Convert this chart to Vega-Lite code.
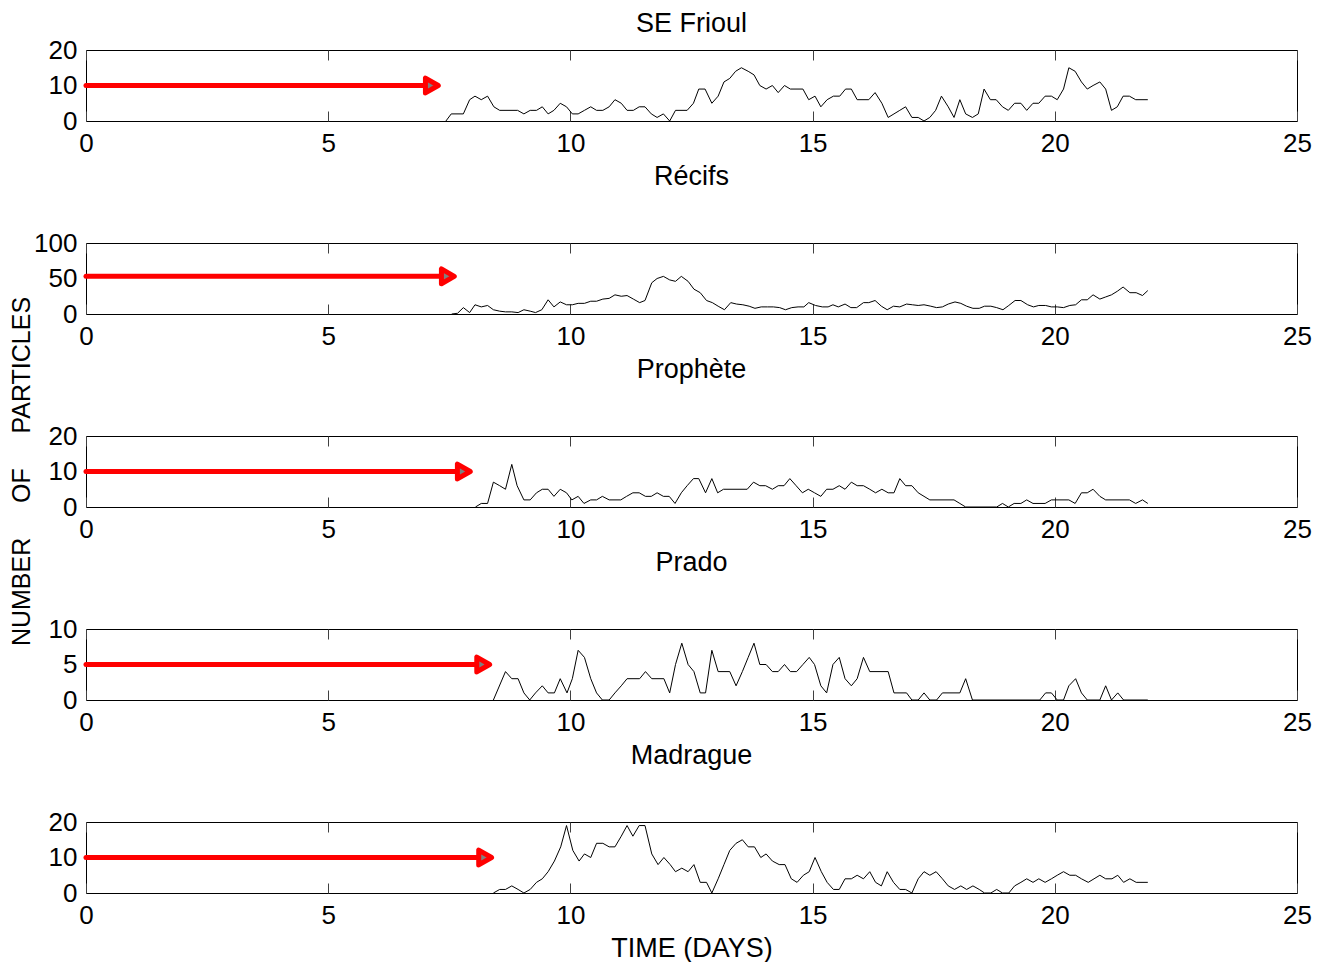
{
  "$schema": "https://vega.github.io/schema/vega-lite/v6.json",
  "padding": {"left": 8, "top": 9, "right": 0, "bottom": 0},
  "bounds": "flush",
  "spacing": 122,
  "background": "white",
  "config": {
    "font": "Liberation Sans",
    "view": {"stroke": "black", "strokeWidth": 1},
    "axis": {"labelFont": "Liberation Sans", "labelFontSize": 26, "labelColor": "black", "labelOverlap": false, "titleFont": "Liberation Sans", "titleFontSize": 27, "titleFontWeight": "normal", "titleColor": "black", "domain": false, "grid": false},
    "axisY": {"values": [0,10,20], "ticks": false, "labelPadding": 9, "labelBaseline": "middle", "labelOverlap": false, "title": null},
    "title": {"font": "Liberation Sans", "fontSize": 27, "fontWeight": "normal", "color": "black", "anchor": "middle"}
  },
  "datasets": {
    "p1": [
      {"t":7.43,"v":0},{"t":7.54,"v":2},{"t":7.79,"v":2},{"t":7.92,"v":6},{"t":8.03,"v":7},{"t":8.16,"v":6},{"t":8.29,"v":7},{"t":8.42,"v":4},{"t":8.54,"v":3},{"t":8.91,"v":3},{"t":9.04,"v":2},{"t":9.17,"v":3},{"t":9.30,"v":3},{"t":9.42,"v":4},{"t":9.54,"v":2},{"t":9.66,"v":3},{"t":9.79,"v":5},{"t":9.92,"v":4},{"t":10.04,"v":2},{"t":10.16,"v":2},{"t":10.29,"v":3},{"t":10.42,"v":4},{"t":10.54,"v":3},{"t":10.67,"v":3},{"t":10.80,"v":4},{"t":10.92,"v":6},{"t":11.05,"v":5},{"t":11.17,"v":3},{"t":11.30,"v":3},{"t":11.42,"v":4},{"t":11.54,"v":4},{"t":11.67,"v":2},{"t":11.79,"v":1},{"t":11.92,"v":2},{"t":12.05,"v":0},{"t":12.17,"v":3},{"t":12.41,"v":3},{"t":12.54,"v":5},{"t":12.65,"v":9},{"t":12.78,"v":9},{"t":12.92,"v":5},{"t":13.05,"v":7},{"t":13.17,"v":11},{"t":13.29,"v":12},{"t":13.41,"v":14},{"t":13.53,"v":15},{"t":13.67,"v":14},{"t":13.79,"v":13},{"t":13.91,"v":10},{"t":14.04,"v":9},{"t":14.17,"v":10},{"t":14.29,"v":8},{"t":14.42,"v":10},{"t":14.54,"v":9},{"t":14.80,"v":9},{"t":14.92,"v":6},{"t":15.05,"v":7},{"t":15.17,"v":4},{"t":15.30,"v":6},{"t":15.43,"v":7},{"t":15.56,"v":7},{"t":15.68,"v":9},{"t":15.80,"v":9},{"t":15.92,"v":6},{"t":16.16,"v":6},{"t":16.29,"v":8},{"t":16.43,"v":5},{"t":16.56,"v":1},{"t":16.68,"v":2},{"t":16.80,"v":3},{"t":16.92,"v":4},{"t":17.05,"v":1},{"t":17.18,"v":1},{"t":17.30,"v":0},{"t":17.42,"v":1},{"t":17.54,"v":3},{"t":17.66,"v":7},{"t":17.80,"v":4},{"t":17.92,"v":1},{"t":18.04,"v":6},{"t":18.16,"v":2},{"t":18.30,"v":1},{"t":18.42,"v":2},{"t":18.54,"v":9},{"t":18.67,"v":6},{"t":18.79,"v":6},{"t":18.92,"v":4},{"t":19.04,"v":3},{"t":19.17,"v":5},{"t":19.30,"v":5},{"t":19.42,"v":3},{"t":19.55,"v":5},{"t":19.67,"v":5},{"t":19.80,"v":7},{"t":19.93,"v":7},{"t":20.05,"v":6},{"t":20.18,"v":9},{"t":20.29,"v":15},{"t":20.42,"v":14},{"t":20.55,"v":11},{"t":20.67,"v":9},{"t":20.79,"v":10},{"t":20.93,"v":11},{"t":21.05,"v":9},{"t":21.17,"v":3},{"t":21.29,"v":4},{"t":21.41,"v":7},{"t":21.54,"v":7},{"t":21.67,"v":6},{"t":21.92,"v":6}
    ],
    "p2": [
      {"t":7.55,"v":0},{"t":7.67,"v":1},{"t":7.79,"v":9},{"t":7.92,"v":2},{"t":8.03,"v":13},{"t":8.16,"v":10},{"t":8.29,"v":12},{"t":8.41,"v":6},{"t":8.54,"v":4},{"t":8.66,"v":3},{"t":8.79,"v":3},{"t":8.92,"v":2},{"t":9.04,"v":6},{"t":9.17,"v":4},{"t":9.28,"v":2},{"t":9.41,"v":6},{"t":9.54,"v":20},{"t":9.66,"v":10},{"t":9.79,"v":17},{"t":9.92,"v":13},{"t":10.04,"v":13},{"t":10.16,"v":15},{"t":10.29,"v":15},{"t":10.42,"v":18},{"t":10.54,"v":18},{"t":10.67,"v":21},{"t":10.80,"v":22},{"t":10.92,"v":27},{"t":11.05,"v":25},{"t":11.17,"v":26},{"t":11.30,"v":21},{"t":11.43,"v":16},{"t":11.54,"v":19},{"t":11.68,"v":44},{"t":11.79,"v":50},{"t":11.92,"v":53},{"t":12.05,"v":48},{"t":12.17,"v":46},{"t":12.29,"v":53},{"t":12.43,"v":46},{"t":12.55,"v":35},{"t":12.68,"v":30},{"t":12.81,"v":19},{"t":12.93,"v":16},{"t":13.05,"v":11},{"t":13.18,"v":6},{"t":13.31,"v":16},{"t":13.43,"v":14},{"t":13.56,"v":13},{"t":13.69,"v":11},{"t":13.81,"v":8},{"t":13.94,"v":10},{"t":14.07,"v":10},{"t":14.19,"v":10},{"t":14.32,"v":9},{"t":14.44,"v":6},{"t":14.57,"v":9},{"t":14.70,"v":10},{"t":14.82,"v":10},{"t":14.92,"v":16},{"t":15.06,"v":12},{"t":15.20,"v":10},{"t":15.32,"v":10},{"t":15.42,"v":13},{"t":15.53,"v":10},{"t":15.67,"v":14},{"t":15.79,"v":9},{"t":15.91,"v":9},{"t":16.05,"v":16},{"t":16.16,"v":16},{"t":16.29,"v":19},{"t":16.42,"v":11},{"t":16.54,"v":6},{"t":16.67,"v":11},{"t":16.80,"v":10},{"t":16.94,"v":14},{"t":17.06,"v":13},{"t":17.18,"v":12},{"t":17.30,"v":13},{"t":17.44,"v":11},{"t":17.56,"v":9},{"t":17.68,"v":10},{"t":17.80,"v":14},{"t":17.94,"v":17},{"t":18.06,"v":15},{"t":18.18,"v":11},{"t":18.31,"v":8},{"t":18.44,"v":8},{"t":18.55,"v":11},{"t":18.68,"v":11},{"t":18.80,"v":9},{"t":18.93,"v":6},{"t":19.05,"v":12},{"t":19.18,"v":19},{"t":19.30,"v":19},{"t":19.44,"v":13},{"t":19.56,"v":10},{"t":19.67,"v":12},{"t":19.81,"v":12},{"t":19.93,"v":10},{"t":20.05,"v":10},{"t":20.18,"v":9},{"t":20.31,"v":12},{"t":20.43,"v":13},{"t":20.55,"v":20},{"t":20.67,"v":20},{"t":20.79,"v":27},{"t":20.93,"v":21},{"t":21.05,"v":24},{"t":21.17,"v":27},{"t":21.29,"v":32},{"t":21.41,"v":38},{"t":21.55,"v":30},{"t":21.68,"v":30},{"t":21.81,"v":26},{"t":21.92,"v":33}
    ],
    "p3": [
      {"t":8.04,"v":0},{"t":8.16,"v":1},{"t":8.29,"v":1},{"t":8.41,"v":7},{"t":8.54,"v":6},{"t":8.66,"v":5},{"t":8.79,"v":12},{"t":8.90,"v":6},{"t":9.04,"v":2},{"t":9.17,"v":2},{"t":9.30,"v":4},{"t":9.42,"v":5},{"t":9.54,"v":5},{"t":9.66,"v":3},{"t":9.79,"v":5},{"t":9.92,"v":4},{"t":10.03,"v":2},{"t":10.16,"v":3},{"t":10.28,"v":1},{"t":10.42,"v":2},{"t":10.54,"v":2},{"t":10.66,"v":3},{"t":10.80,"v":2},{"t":11.04,"v":2},{"t":11.16,"v":3},{"t":11.29,"v":4},{"t":11.42,"v":4},{"t":11.55,"v":3},{"t":11.67,"v":3},{"t":11.79,"v":4},{"t":11.92,"v":3},{"t":12.04,"v":3},{"t":12.16,"v":1},{"t":12.29,"v":4},{"t":12.41,"v":6},{"t":12.54,"v":8},{"t":12.65,"v":8},{"t":12.79,"v":4},{"t":12.92,"v":8},{"t":13.04,"v":4},{"t":13.16,"v":5},{"t":13.65,"v":5},{"t":13.78,"v":7},{"t":13.91,"v":6},{"t":14.03,"v":6},{"t":14.17,"v":5},{"t":14.29,"v":6},{"t":14.41,"v":6},{"t":14.53,"v":8},{"t":14.66,"v":6},{"t":14.79,"v":4},{"t":14.91,"v":5},{"t":15.04,"v":4},{"t":15.17,"v":3},{"t":15.29,"v":5},{"t":15.42,"v":5},{"t":15.55,"v":6},{"t":15.67,"v":5},{"t":15.80,"v":7},{"t":15.92,"v":6},{"t":16.05,"v":6},{"t":16.18,"v":5},{"t":16.30,"v":4},{"t":16.43,"v":5},{"t":16.56,"v":4},{"t":16.68,"v":4},{"t":16.80,"v":8},{"t":16.92,"v":6},{"t":17.05,"v":6},{"t":17.18,"v":4},{"t":17.30,"v":3},{"t":17.42,"v":2},{"t":17.92,"v":2},{"t":18.04,"v":1},{"t":18.16,"v":0},{"t":18.80,"v":0},{"t":18.92,"v":1},{"t":19.04,"v":0},{"t":19.16,"v":1},{"t":19.30,"v":1},{"t":19.42,"v":2},{"t":19.55,"v":1},{"t":19.80,"v":1},{"t":19.93,"v":2},{"t":20.29,"v":2},{"t":20.42,"v":1},{"t":20.55,"v":4},{"t":20.67,"v":4},{"t":20.79,"v":5},{"t":20.93,"v":3},{"t":21.05,"v":2},{"t":21.54,"v":2},{"t":21.67,"v":1},{"t":21.81,"v":2},{"t":21.92,"v":1}
    ],
    "p4": [
      {"t":8.41,"v":0},{"t":8.66,"v":4},{"t":8.79,"v":3},{"t":8.92,"v":3},{"t":9.04,"v":1},{"t":9.16,"v":0},{"t":9.28,"v":1},{"t":9.42,"v":2},{"t":9.54,"v":1},{"t":9.67,"v":1},{"t":9.79,"v":3},{"t":9.93,"v":1},{"t":10.04,"v":3},{"t":10.16,"v":7},{"t":10.29,"v":6},{"t":10.42,"v":3},{"t":10.54,"v":1},{"t":10.66,"v":0},{"t":10.80,"v":0},{"t":10.92,"v":1},{"t":11.05,"v":2},{"t":11.17,"v":3},{"t":11.43,"v":3},{"t":11.55,"v":4},{"t":11.68,"v":3},{"t":11.93,"v":3},{"t":12.05,"v":1},{"t":12.17,"v":5},{"t":12.30,"v":8},{"t":12.43,"v":5},{"t":12.55,"v":4},{"t":12.68,"v":1},{"t":12.79,"v":1},{"t":12.92,"v":7},{"t":13.05,"v":4},{"t":13.29,"v":4},{"t":13.42,"v":2},{"t":13.55,"v":4},{"t":13.67,"v":6},{"t":13.79,"v":8},{"t":13.91,"v":5},{"t":14.04,"v":5},{"t":14.17,"v":4},{"t":14.29,"v":4},{"t":14.42,"v":5},{"t":14.54,"v":4},{"t":14.67,"v":4},{"t":14.80,"v":5},{"t":14.93,"v":6},{"t":15.04,"v":5},{"t":15.17,"v":2},{"t":15.29,"v":1},{"t":15.42,"v":5},{"t":15.55,"v":6},{"t":15.67,"v":3},{"t":15.80,"v":2},{"t":15.92,"v":3},{"t":16.05,"v":6},{"t":16.18,"v":4},{"t":16.56,"v":4},{"t":16.68,"v":1},{"t":16.94,"v":1},{"t":17.05,"v":0},{"t":17.18,"v":0},{"t":17.30,"v":1},{"t":17.42,"v":0},{"t":17.56,"v":0},{"t":17.68,"v":1},{"t":18.04,"v":1},{"t":18.16,"v":3},{"t":18.30,"v":0},{"t":19.69,"v":0},{"t":19.81,"v":1},{"t":19.93,"v":1},{"t":20.05,"v":0},{"t":20.18,"v":0},{"t":20.29,"v":2},{"t":20.43,"v":3},{"t":20.55,"v":1},{"t":20.67,"v":0},{"t":20.93,"v":0},{"t":21.05,"v":2},{"t":21.17,"v":0},{"t":21.30,"v":1},{"t":21.42,"v":0},{"t":21.92,"v":0}
    ],
    "p5": [
      {"t":8.41,"v":0},{"t":8.54,"v":1},{"t":8.66,"v":1},{"t":8.79,"v":2},{"t":8.92,"v":1},{"t":9.04,"v":0},{"t":9.17,"v":1},{"t":9.30,"v":3},{"t":9.42,"v":4},{"t":9.54,"v":6},{"t":9.67,"v":9},{"t":9.80,"v":13},{"t":9.92,"v":19},{"t":10.05,"v":12},{"t":10.18,"v":9},{"t":10.29,"v":11},{"t":10.42,"v":10},{"t":10.54,"v":14},{"t":10.67,"v":14},{"t":10.80,"v":13},{"t":10.92,"v":13},{"t":11.05,"v":16},{"t":11.17,"v":19},{"t":11.29,"v":16},{"t":11.42,"v":19},{"t":11.54,"v":19},{"t":11.68,"v":11},{"t":11.81,"v":8},{"t":11.93,"v":10},{"t":12.06,"v":8},{"t":12.17,"v":6},{"t":12.30,"v":7},{"t":12.43,"v":6},{"t":12.55,"v":8},{"t":12.68,"v":3},{"t":12.81,"v":3},{"t":12.92,"v":0},{"t":13.05,"v":4},{"t":13.17,"v":8},{"t":13.29,"v":12},{"t":13.42,"v":14},{"t":13.55,"v":15},{"t":13.67,"v":13},{"t":13.80,"v":13},{"t":13.93,"v":10},{"t":14.04,"v":11},{"t":14.17,"v":9},{"t":14.31,"v":8},{"t":14.43,"v":8},{"t":14.56,"v":4},{"t":14.68,"v":3},{"t":14.81,"v":5},{"t":14.93,"v":6},{"t":15.05,"v":10},{"t":15.18,"v":6},{"t":15.30,"v":3},{"t":15.43,"v":1},{"t":15.55,"v":1},{"t":15.67,"v":4},{"t":15.80,"v":4},{"t":15.92,"v":5},{"t":16.05,"v":4},{"t":16.18,"v":6},{"t":16.30,"v":3},{"t":16.42,"v":2},{"t":16.54,"v":6},{"t":16.67,"v":3},{"t":16.80,"v":1},{"t":16.92,"v":1},{"t":17.05,"v":0},{"t":17.18,"v":4},{"t":17.30,"v":6},{"t":17.42,"v":5},{"t":17.55,"v":6},{"t":17.68,"v":4},{"t":17.80,"v":2},{"t":17.93,"v":1},{"t":18.06,"v":2},{"t":18.18,"v":1},{"t":18.31,"v":2},{"t":18.44,"v":1},{"t":18.55,"v":0},{"t":18.68,"v":0},{"t":18.80,"v":1},{"t":18.92,"v":0},{"t":19.05,"v":0},{"t":19.17,"v":2},{"t":19.30,"v":3},{"t":19.42,"v":4},{"t":19.55,"v":3},{"t":19.67,"v":4},{"t":19.80,"v":3},{"t":19.93,"v":4},{"t":20.05,"v":5},{"t":20.18,"v":6},{"t":20.31,"v":5},{"t":20.43,"v":5},{"t":20.55,"v":4},{"t":20.69,"v":3},{"t":20.81,"v":4},{"t":20.93,"v":5},{"t":21.05,"v":4},{"t":21.18,"v":4},{"t":21.30,"v":5},{"t":21.42,"v":3},{"t":21.55,"v":4},{"t":21.68,"v":3},{"t":21.92,"v":3}
    ],
    "a1": [{"x0":0,"x1":7.14,"y":10}],
    "a2": [{"x0":0,"x1":7.47,"y":53}],
    "a3": [{"x0":0,"x1":7.80,"y":10}],
    "a4": [{"x0":0,"x1":8.20,"y":5}],
    "a5": [{"x0":0,"x1":8.24,"y":10}]
  },
  "vconcat": [
    {
      "title": {"text": "SE Frioul", "offset": -1},
      "width": 1211, "height": 71,
      "resolve": {"axis": {"x": "independent"}},
      "layer": [
        {"data": {"name": "p1"}, "mark": {"type": "line", "color": "black", "strokeWidth": 1},
         "encoding": {
           "x": {"field": "t", "type": "quantitative", "scale": {"domain": [0, 25], "nice": false}, "axis": {"orient": "bottom", "values": [0,5,10,15,20,25], "tickSize": -10, "tickColor": "#404040", "labelPadding": 19, "labelFlush": false, "labelOverlap": false, "title": null}},
           "y": {"field": "v", "type": "quantitative", "scale": {"domain": [0, 20], "nice": false}, "axis": {"values": [0,10,20], "labelOverlap": false}}}},
        {"data": {"name": "a1"}, "mark": {"type": "rule", "color": "#ff0000", "strokeWidth": 5, "strokeCap": "round"},
         "encoding": {
           "x": {"field": "x0", "type": "quantitative", "axis": {"orient": "top", "values": [0,5,10,15,20,25], "tickSize": -10, "tickColor": "#404040", "labels": false, "title": null}},
           "x2": {"field": "x1"},
           "y": {"field": "y", "type": "quantitative", "axis": {"values": [0,10,20], "labelOverlap": false}}}},
        {"data": {"name": "a1"}, "mark": {"type": "point", "shape": "triangle-right", "filled": true, "fill": "#808080", "stroke": "#ff0000", "strokeWidth": 5, "strokeJoin": "round", "size": 220, "opacity": 1},
         "encoding": {
           "x": {"field": "x1", "type": "quantitative", "axis": null},
           "y": {"field": "y", "type": "quantitative", "axis": {"values": [0,10,20], "labelOverlap": false}}}}
      ]
    },
    {
      "title": {"text": "Récifs", "offset": 39},
      "width": 1211, "height": 71,
      "resolve": {"axis": {"x": "independent"}},
      "layer": [
        {"data": {"name": "p2"}, "mark": {"type": "line", "color": "black", "strokeWidth": 1},
         "encoding": {
           "x": {"field": "t", "type": "quantitative", "scale": {"domain": [0, 25], "nice": false}, "axis": {"orient": "bottom", "values": [0,5,10,15,20,25], "tickSize": -10, "tickColor": "#404040", "labelPadding": 19, "labelFlush": false, "labelOverlap": false, "title": null}},
           "y": {"field": "v", "type": "quantitative", "scale": {"domain": [0, 100], "nice": false}, "axis": {"values": [0,50,100], "labelOverlap": false}}}},
        {"data": {"name": "a2"}, "mark": {"type": "rule", "color": "#ff0000", "strokeWidth": 5, "strokeCap": "round"},
         "encoding": {
           "x": {"field": "x0", "type": "quantitative", "axis": {"orient": "top", "values": [0,5,10,15,20,25], "tickSize": -10, "tickColor": "#404040", "labels": false, "title": null}},
           "x2": {"field": "x1"},
           "y": {"field": "y", "type": "quantitative", "axis": {"values": [0,50,100], "labelOverlap": false}}}},
        {"data": {"name": "a2"}, "mark": {"type": "point", "shape": "triangle-right", "filled": true, "fill": "#808080", "stroke": "#ff0000", "strokeWidth": 5, "strokeJoin": "round", "size": 220, "opacity": 1},
         "encoding": {
           "x": {"field": "x1", "type": "quantitative", "axis": null},
           "y": {"field": "y", "type": "quantitative", "axis": {"values": [0,50,100], "labelOverlap": false}}}}
      ]
    },
    {
      "title": {"text": "Prophète", "offset": -88},
      "width": 1211, "height": 71,
      "resolve": {"axis": {"x": "independent"}},
      "layer": [
        {"data": {"name": "p3"}, "mark": {"type": "line", "color": "black", "strokeWidth": 1},
         "encoding": {
           "x": {"field": "t", "type": "quantitative", "scale": {"domain": [0, 25], "nice": false}, "axis": {"orient": "bottom", "values": [0,5,10,15,20,25], "tickSize": -10, "tickColor": "#404040", "labelPadding": 19, "labelFlush": false, "labelOverlap": false, "title": null}},
           "y": {"field": "v", "type": "quantitative", "scale": {"domain": [0, 20], "nice": false}, "axis": {"values": [0,10,20], "labelOverlap": false, "title": "NUMBER\u00a0\u00a0\u00a0\u00a0\u00a0OF\u00a0\u00a0\u00a0\u00a0\u00a0PARTICLES", "titleFontSize": 25, "titleX": -65, "titleY": 35, "titleAngle": 270, "titleAlign": "center", "titleBaseline": "middle"}}}},
        {"data": {"name": "a3"}, "mark": {"type": "rule", "color": "#ff0000", "strokeWidth": 5, "strokeCap": "round"},
         "encoding": {
           "x": {"field": "x0", "type": "quantitative", "axis": {"orient": "top", "values": [0,5,10,15,20,25], "tickSize": -10, "tickColor": "#404040", "labels": false, "title": null}},
           "x2": {"field": "x1"},
           "y": {"field": "y", "type": "quantitative", "axis": {"values": [0,10,20], "labelOverlap": false, "title": "NUMBER\u00a0\u00a0\u00a0\u00a0\u00a0OF\u00a0\u00a0\u00a0\u00a0\u00a0PARTICLES", "titleFontSize": 25, "titleX": -65, "titleY": 35, "titleAngle": 270, "titleAlign": "center", "titleBaseline": "middle"}}}},
        {"data": {"name": "a3"}, "mark": {"type": "point", "shape": "triangle-right", "filled": true, "fill": "#808080", "stroke": "#ff0000", "strokeWidth": 5, "strokeJoin": "round", "size": 220, "opacity": 1},
         "encoding": {
           "x": {"field": "x1", "type": "quantitative", "axis": null},
           "y": {"field": "y", "type": "quantitative", "axis": {"values": [0,10,20], "labelOverlap": false, "title": "NUMBER\u00a0\u00a0\u00a0\u00a0\u00a0OF\u00a0\u00a0\u00a0\u00a0\u00a0PARTICLES", "titleFontSize": 25, "titleX": -65, "titleY": 35, "titleAngle": 270, "titleAlign": "center", "titleBaseline": "middle"}}}}
      ]
    },
    {
      "title": {"text": "Prado", "offset": 39},
      "width": 1211, "height": 71,
      "resolve": {"axis": {"x": "independent"}},
      "layer": [
        {"data": {"name": "p4"}, "mark": {"type": "line", "color": "black", "strokeWidth": 1},
         "encoding": {
           "x": {"field": "t", "type": "quantitative", "scale": {"domain": [0, 25], "nice": false}, "axis": {"orient": "bottom", "values": [0,5,10,15,20,25], "tickSize": -10, "tickColor": "#404040", "labelPadding": 19, "labelFlush": false, "labelOverlap": false, "title": null}},
           "y": {"field": "v", "type": "quantitative", "scale": {"domain": [0, 10], "nice": false}, "axis": {"values": [0,5,10], "labelOverlap": false}}}},
        {"data": {"name": "a4"}, "mark": {"type": "rule", "color": "#ff0000", "strokeWidth": 5, "strokeCap": "round"},
         "encoding": {
           "x": {"field": "x0", "type": "quantitative", "axis": {"orient": "top", "values": [0,5,10,15,20,25], "tickSize": -10, "tickColor": "#404040", "labels": false, "title": null}},
           "x2": {"field": "x1"},
           "y": {"field": "y", "type": "quantitative", "axis": {"values": [0,5,10], "labelOverlap": false}}}},
        {"data": {"name": "a4"}, "mark": {"type": "point", "shape": "triangle-right", "filled": true, "fill": "#808080", "stroke": "#ff0000", "strokeWidth": 5, "strokeJoin": "round", "size": 220, "opacity": 1},
         "encoding": {
           "x": {"field": "x1", "type": "quantitative", "axis": null},
           "y": {"field": "y", "type": "quantitative", "axis": {"values": [0,5,10], "labelOverlap": false}}}}
      ]
    },
    {
      "title": {"text": "Madrague", "offset": 39},
      "width": 1211, "height": 71,
      "resolve": {"axis": {"x": "independent"}},
      "layer": [
        {"data": {"name": "p5"}, "mark": {"type": "line", "color": "black", "strokeWidth": 1},
         "encoding": {
           "x": {"field": "t", "type": "quantitative", "scale": {"domain": [0, 25], "nice": false}, "axis": {"orient": "bottom", "values": [0,5,10,15,20,25], "tickSize": -10, "tickColor": "#404040", "labelPadding": 19, "labelFlush": false, "labelOverlap": false, "title": "TIME (DAYS)", "titleY": 55, "titleBaseline": "middle"}},
           "y": {"field": "v", "type": "quantitative", "scale": {"domain": [0, 20], "nice": false}, "axis": {"values": [0,10,20], "labelOverlap": false}}}},
        {"data": {"name": "a5"}, "mark": {"type": "rule", "color": "#ff0000", "strokeWidth": 5, "strokeCap": "round"},
         "encoding": {
           "x": {"field": "x0", "type": "quantitative", "axis": {"orient": "top", "values": [0,5,10,15,20,25], "tickSize": -10, "tickColor": "#404040", "labels": false, "title": null}},
           "x2": {"field": "x1"},
           "y": {"field": "y", "type": "quantitative", "axis": {"values": [0,10,20], "labelOverlap": false}}}},
        {"data": {"name": "a5"}, "mark": {"type": "point", "shape": "triangle-right", "filled": true, "fill": "#808080", "stroke": "#ff0000", "strokeWidth": 5, "strokeJoin": "round", "size": 220, "opacity": 1},
         "encoding": {
           "x": {"field": "x1", "type": "quantitative", "axis": null},
           "y": {"field": "y", "type": "quantitative", "axis": {"values": [0,10,20], "labelOverlap": false}}}}
      ]
    }
  ]
}
